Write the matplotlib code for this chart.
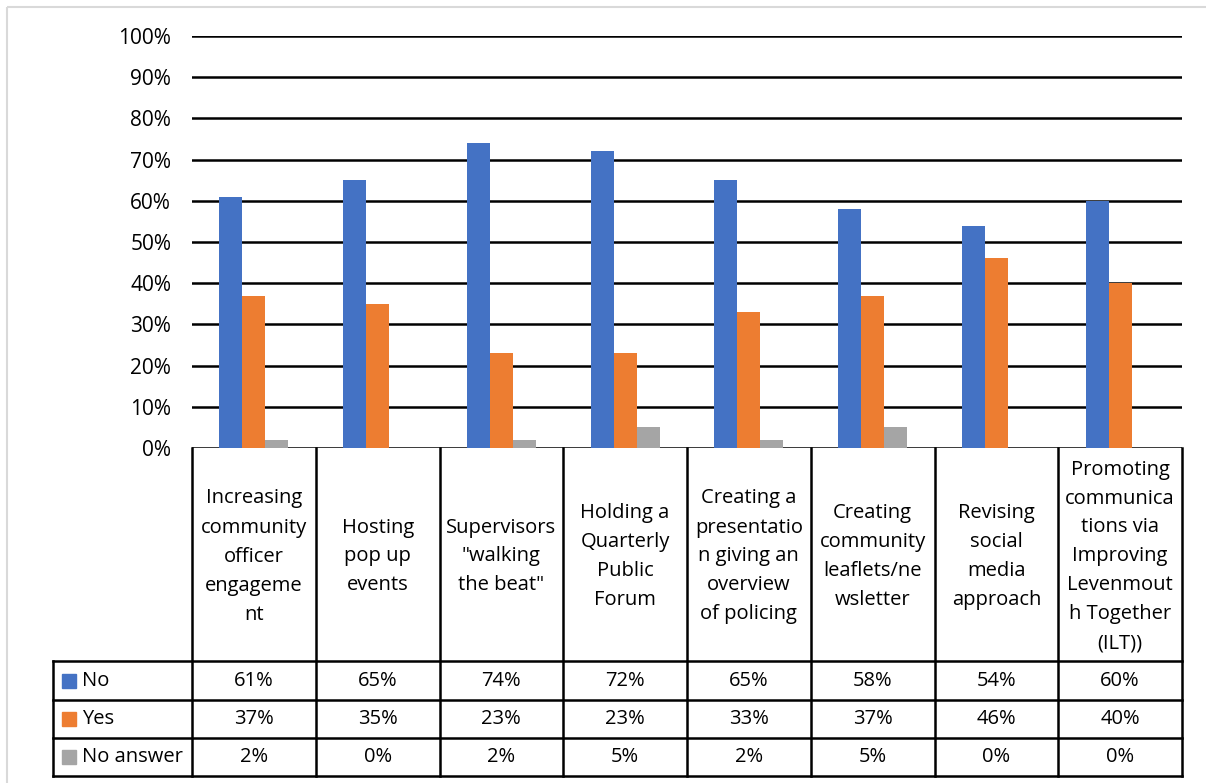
import numpy as np
import matplotlib
matplotlib.use("Agg")
import matplotlib.pyplot as plt
from matplotlib.patches import Rectangle

plt.rcParams['font.family'] = ['Open Sans', 'DejaVu Sans']

# data
categories = [
    "Increasing\ncommunity\nofficer\nengageme\nnt",
    "Hosting\npop up\nevents",
    "Supervisors\n\"walking\nthe beat\"",
    "Holding a\nQuarterly\nPublic\nForum",
    "Creating a\npresentatio\nn giving an\noverview\nof policing",
    "Creating\ncommunity\nleaflets/ne\nwsletter",
    "Revising\nsocial\nmedia\napproach",
    "Promoting\ncommunica\ntions via\nImproving\nLevenmout\nh Together\n(ILT))",
]
series_names = ["No", "Yes", "No answer"]
no_vals = [61, 65, 74, 72, 65, 58, 54, 60]
yes_vals = [37, 35, 23, 23, 33, 37, 46, 40]
noans_vals = [2, 0, 2, 5, 2, 5, 0, 0]
colors = ["#4472C4", "#ED7D31", "#A5A5A5"]
yticks = list(range(0, 101, 10))

W, H = 1206, 783
fs = 14.5
fig = plt.figure(figsize=(W / 100, H / 100), dpi=100)

# plot area in pixels
px0, px1 = 192, 1182
py_top, py_bot = 36, 448
ax = fig.add_axes([px0 / W, 1 - py_bot / H, (px1 - px0) / W, (py_bot - py_top) / H])

n = len(categories)
x = np.arange(n)
bw = 0.186
all_vals = [no_vals, yes_vals, noans_vals]
for i, (vals, c) in enumerate(zip(all_vals, colors)):
    ax.bar(x + (i - 1) * bw, vals, width=bw, color=c, zorder=3)

ax.set_xlim(-0.5, n - 0.5)
ax.set_ylim(0, 100)
ax.set_yticks(yticks)
ax.set_yticklabels([f"{t}%" for t in yticks], fontsize=fs + 0.5)
ax.tick_params(axis='y', length=0, pad=15)
ax.set_xticks([])
for s in ax.spines.values():
    s.set_visible(False)
ax.grid(axis='y', color='black', linewidth=1.8, zorder=1)

# table overlay in pixel coordinates
tab = fig.add_axes([0, 0, 1, 1])
tab.set_xlim(0, W)
tab.set_ylim(H, 0)
tab.axis('off')

colw = (px1 - px0) / n
leg_x0 = 53
row_y = [661, 700, 738, 776]
lw = 1.8

# header cells
for j in range(n + 1):
    xx = px0 + j * colw
    tab.plot([xx, xx], [py_bot, row_y[-1]], color='black', lw=lw)
for j, cat in enumerate(categories):
    tab.text(px0 + (j + 0.5) * colw, (py_bot + row_y[0]) / 2 + 2, cat,
             ha='center', va='center', fontsize=fs, linespacing=1.6)

# data rows
for yy in row_y:
    tab.plot([leg_x0, px1], [yy, yy], color='black', lw=lw)
tab.plot([leg_x0, leg_x0], [row_y[0], row_y[-1]], color='black', lw=lw)

for r, (name, vals, c) in enumerate(zip(series_names, all_vals, colors)):
    yc = (row_y[r] + row_y[r + 1]) / 2
    tab.add_patch(Rectangle((62, yc - 7), 14, 14, color=c))
    tab.text(82, yc, name, ha='left', va='center', fontsize=fs)
    for j, v in enumerate(vals):
        tab.text(px0 + (j + 0.5) * colw, yc, f"{v}%", ha='center', va='center', fontsize=fs)

# chart border
tab.add_patch(Rectangle((7, 7), W, H, fill=False, edgecolor='#D9D9D9', lw=1.5))

fig.savefig("out.png", dpi=100)
